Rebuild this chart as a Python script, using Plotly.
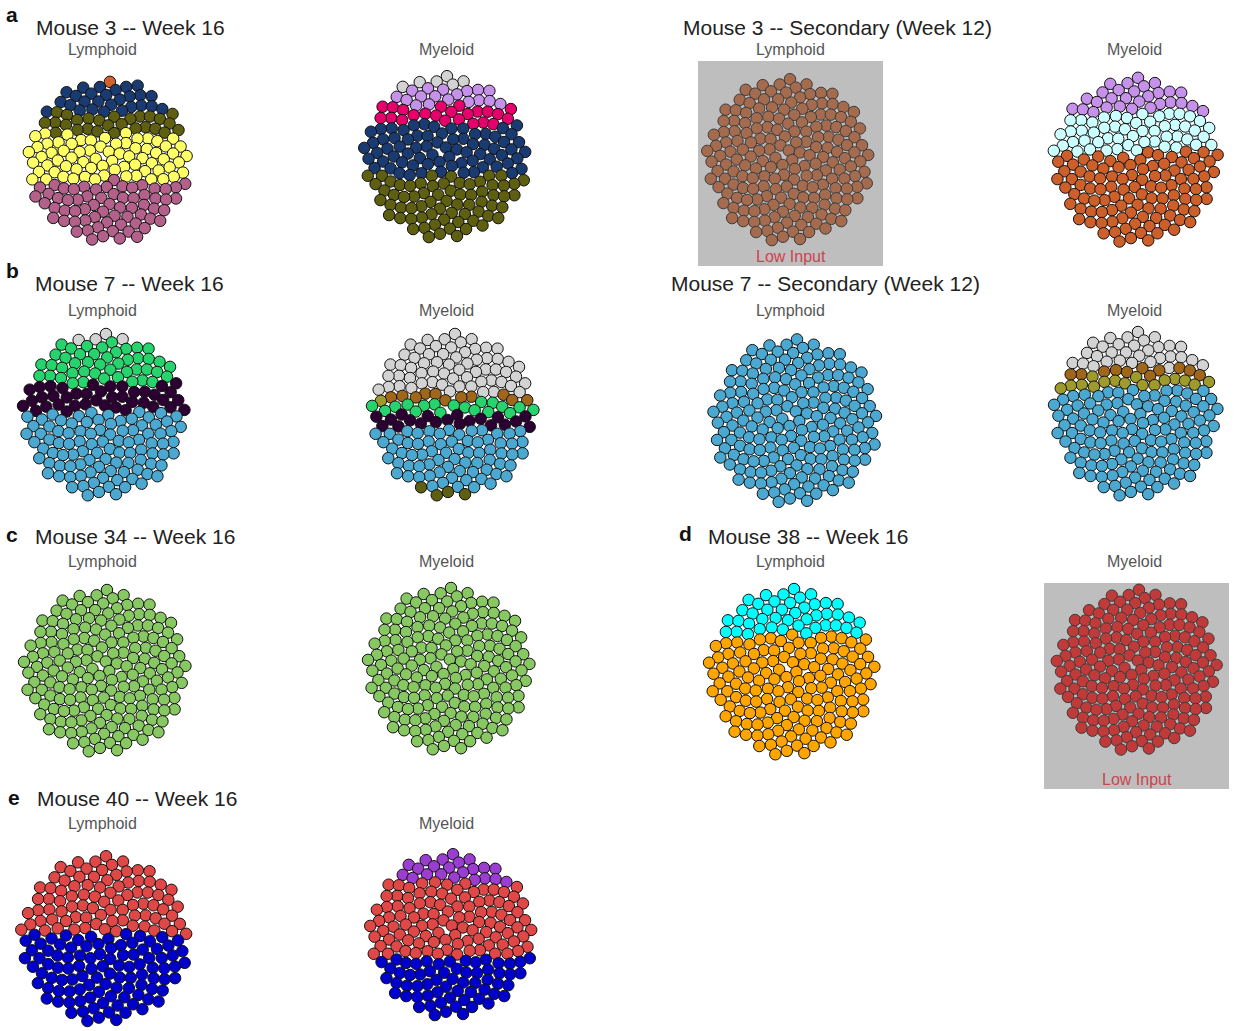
import numpy as np
import plotly.graph_objects as go

W, H = 1237, 1031

# Clone sizes (number of cells per clone, listed from the top band down)
m3_w16_lymphoid = [1, 27, 27, 70, 65]
m3_w16_myeloid = [6, 18, 23, 72, 68]
m3_sec_lymphoid = [187]
m3_sec_myeloid = [29, 52, 104]
m7_w16_lymphoid = [4, 45, 40, 97]
m7_w16_myeloid = [62, 11, 1, 18, 20, 70, 4]
m7_sec_lymphoid = [188]
m7_sec_myeloid = [31, 11, 16, 128]
m34_w16_lymphoid = [186]
m34_w16_myeloid = [186]
m38_w16_lymphoid = [43, 143]
m38_w16_myeloid = [185]
m40_w16_lymphoid = [86, 101]
m40_w16_myeloid = [22, 103, 62]

# Clone colours, in the same order as the sizes above
C = {
    "orange": "#D0622E", "navy": "#1A3B71", "olive": "#5F5F12", "yellow": "#FFFF66",
    "mauve": "#B3618A", "grey": "#D3D3D3", "lavender": "#C691E8", "magenta": "#E6006B",
    "brown": "#A56B4F", "paleCyan": "#CCFFFF", "rust": "#CC5F2A", "green": "#26D36C",
    "plum": "#2D0033", "sky": "#4BA9D1", "ochre": "#A0661A", "khaki": "#9E9A2C",
    "lime": "#88C862", "cyan": "#00FFFF", "amber": "#FFA500", "brick": "#C03A3A",
    "red": "#E04848", "blue": "#0000CC", "violet": "#9A3DD0",
}
m3_w16_lymphoid_col = ["orange", "navy", "olive", "yellow", "mauve"]
m3_w16_myeloid_col = ["grey", "lavender", "magenta", "navy", "olive"]
m3_sec_lymphoid_col = ["brown"]
m3_sec_myeloid_col = ["lavender", "paleCyan", "rust"]
m7_w16_lymphoid_col = ["grey", "green", "plum", "sky"]
m7_w16_myeloid_col = ["grey", "ochre", "khaki", "green", "plum", "sky", "olive"]
m7_sec_lymphoid_col = ["sky"]
m7_sec_myeloid_col = ["grey", "ochre", "khaki", "sky"]
m34_w16_lymphoid_col = ["lime"]
m34_w16_myeloid_col = ["lime"]
m38_w16_lymphoid_col = ["cyan", "amber"]
m38_w16_myeloid_col = ["brick"]
m40_w16_lymphoid_col = ["red", "blue"]
m40_w16_myeloid_col = ["violet", "red", "blue"]

# Panel placement: (sizes, colours, centre x, centre y, disc radius, low-input box or None)
panels = [
    (m3_w16_lymphoid, m3_w16_lymphoid_col, 108, 161, 87, None),
    (m3_w16_myeloid, m3_w16_myeloid_col, 445, 157, 88, None),
    (m3_sec_lymphoid, m3_sec_lymphoid_col, 788, 160, 88, (698, 883, 61, 266)),
    (m3_sec_myeloid, m3_sec_myeloid_col, 1136, 160, 89, None),
    (m7_w16_lymphoid, m7_w16_lymphoid_col, 104, 415, 88, None),
    (m7_w16_myeloid, m7_w16_myeloid_col, 453, 415, 88, None),
    (m7_sec_lymphoid, m7_sec_lymphoid_col, 795, 421, 89, None),
    (m7_sec_myeloid, m7_sec_myeloid_col, 1136, 414, 89, None),
    (m34_w16_lymphoid, m34_w16_lymphoid_col, 105, 671, 88, None),
    (m34_w16_myeloid, m34_w16_myeloid_col, 449, 669, 88, None),
    (m38_w16_lymphoid, m38_w16_lymphoid_col, 792, 672, 90, None),
    (m38_w16_myeloid, m38_w16_myeloid_col, 1137, 670, 87, (1044, 1229, 583, 789)),
    (m40_w16_lymphoid, m40_w16_lymphoid_col, 104, 939, 90, None),
    (m40_w16_myeloid, m40_w16_myeloid_col, 451, 935, 88, None),
]

CELL = 11.5  # marker diameter in px
GOLDEN = np.pi * (3 - np.sqrt(5))


def disc_layout(n, cx, cy, radius):
    """Sunflower packing of n cells inside a disc, ordered top to bottom."""
    i = np.arange(n)
    rc = radius - CELL / 2
    r = rc * np.sqrt((i + 0.5) / n)
    t = i * GOLDEN
    x = cx + r * np.cos(t)
    y = cy + r * np.sin(t)
    order = np.lexsort((x, y))
    return x[order], y[order]


fig = go.Figure()
shapes = []
annotations = []
FONT = "Liberation Sans, Arial, Helvetica, sans-serif"

for sizes, cols, cx, cy, rad, box in panels:
    n = int(sum(sizes))
    x, y = disc_layout(n, cx, cy, rad)
    colours = np.repeat([C[c] for c in cols], sizes)
    if box:
        x0, x1, y0, y1 = box
        shapes.append(dict(type="rect", xref="x", yref="y", x0=x0, x1=x1, y0=y0, y1=y1,
                           fillcolor="#BEBEBE", line=dict(width=0), layer="below"))
        annotations.append(dict(x=(x0 + x1) / 2, y=y1 - 10, text="Low Input", showarrow=False,
                                xref="x", yref="y", xanchor="center", yanchor="middle",
                                font=dict(size=16, color="#C9464F", family=FONT)))
    fig.add_trace(go.Scatter(
        x=x, y=y, mode="markers", hoverinfo="skip", showlegend=False,
        marker=dict(size=CELL, color=colours,
                    line=dict(width=1, color="#3C3C3C" if box else "#111111")),
    ))

# Row headings
titles = [
    ("a", 12, 14, "Mouse 3 -- Week 16", 34, 27),
    (None, None, None, "Mouse 3 -- Secondary (Week 12)", 681, 27),
    ("b", 12, 270, "Mouse 7 -- Week 16", 33, 283),
    (None, None, None, "Mouse 7 -- Secondary (Week 12)", 669, 283),
    ("c", 12, 534, "Mouse 34 -- Week 16", 33, 536),
    ("d", 685, 533, "Mouse 38 -- Week 16", 706, 536),
    ("e", 14, 797, "Mouse 40 -- Week 16", 35, 798),
]
for letter, lx, ly, text, tx, ty in titles:
    if letter:
        annotations.append(dict(x=lx, y=ly, text="<b>" + letter + "</b>", showarrow=False,
                                xref="x", yref="y", xanchor="center", yanchor="middle",
                                font=dict(size=21, color="#111111", family=FONT)))
    annotations.append(dict(x=tx, y=ty, text=text, showarrow=False, xref="x", yref="y",
                            xanchor="left", yanchor="middle",
                            font=dict(size=21, color="#222222", family=FONT)))

# Lineage labels above each disc
lineage = [
    ("Lymphoid", 102, 49), ("Myeloid", 446, 49), ("Lymphoid", 790, 49), ("Myeloid", 1134, 49),
    ("Lymphoid", 102, 310), ("Myeloid", 446, 310), ("Lymphoid", 790, 310), ("Myeloid", 1134, 310),
    ("Lymphoid", 102, 561), ("Myeloid", 446, 561), ("Lymphoid", 790, 561), ("Myeloid", 1134, 561),
    ("Lymphoid", 102, 823), ("Myeloid", 446, 823),
]
for text, x, y in lineage:
    annotations.append(dict(x=x, y=y, text=text, showarrow=False, xref="x", yref="y",
                            xanchor="center", yanchor="middle",
                            font=dict(size=16, color="#555555", family=FONT)))

fig.update_layout(
    width=W, height=H, margin=dict(l=0, r=0, t=0, b=0, pad=0),
    paper_bgcolor="white", plot_bgcolor="white",
    xaxis=dict(range=[0, W], visible=False, fixedrange=True),
    yaxis=dict(range=[H, 0], visible=False, fixedrange=True),
    shapes=shapes, annotations=annotations, showlegend=False,
)

fig.write_html("out.html")
